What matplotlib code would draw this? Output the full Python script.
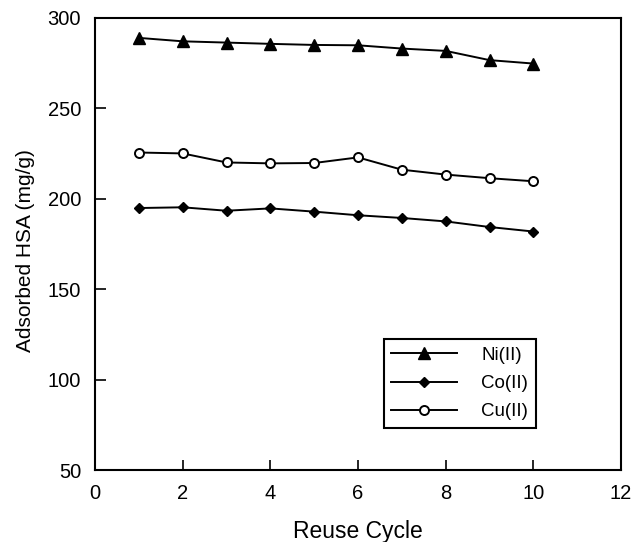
#!/usr/bin/env python3
import matplotlib
matplotlib.use('Agg')
from matplotlib import pyplot as plt

# values
cycles = [1, 2, 3, 4, 5, 6, 7, 8, 9, 10]
ni = [289.0, 287.1, 286.4, 285.7, 285.1, 284.9, 283.1, 281.8, 276.7, 274.8]
co = [194.9, 195.3, 193.4, 194.7, 192.9, 190.9, 189.4, 187.5, 184.4, 181.9]
cu = [225.6, 225.1, 220.1, 219.6, 219.8, 222.9, 216.1, 213.4, 211.4, 209.7]
xticks = [0, 2, 4, 6, 8, 10, 12]
yticks = [50, 100, 150, 200, 250, 300]

plt.rcParams['font.family'] = ['Liberation Sans', 'DejaVu Sans']

f = plt.figure(figsize=(6.35, 5.42), dpi=100)
ax = f.add_axes((0.1496, 0.1328, 0.8284, 0.834))

lw = 1.4
ax.plot(cycles, ni, 'k-', lw=lw, marker='^', ms=8, label='Ni(II)')
ax.plot(cycles, co, 'k-', lw=lw, marker='D', ms=5.5, label='Co(II)')
ax.plot(cycles, cu, 'k-', lw=lw, marker='o', ms=6.5, mfc='white', mew=1.4, label='Cu(II)')

ax.set_xlim(0, 12)
ax.set_ylim(50, 300)
ax.set_xticks(xticks)
ax.set_yticks(yticks)
ax.tick_params(direction='in', labelsize=14.5, width=1.2, pad=10)
ax.tick_params(axis='y', length=8)
ax.tick_params(axis='x', length=7)
for s in ax.spines.values():
  s.set_linewidth(1.5)

ax.set_xlabel('Reuse Cycle', fontsize=16.5, labelpad=12)
ax.set_ylabel('Adsorbed HSA (mg/g)', fontsize=15, labelpad=8)
ax.yaxis.set_label_coords(-0.115, 0.485)

leg = ax.legend(loc='lower left', bbox_to_anchor=(0.549, 0.093), fontsize=13.5,
                handlelength=3.5, handletextpad=1.3, borderpad=0.4,
                labelspacing=0.6, borderaxespad=0, fancybox=False,
                edgecolor='black', framealpha=1)
leg.get_frame().set_linewidth(1.5)

f.savefig('out.png', dpi=100)
plt.close()
